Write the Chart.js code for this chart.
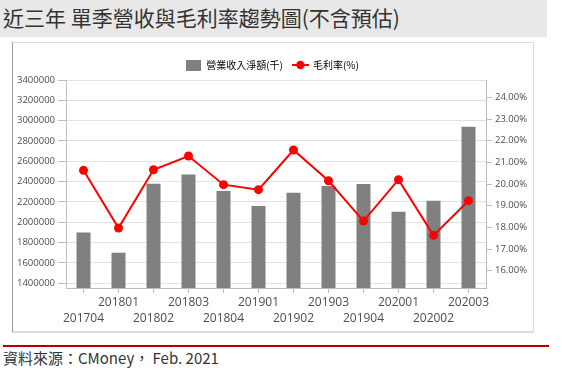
<!DOCTYPE html>
<html>
<head>
<meta charset="utf-8">
<script src="https://cdn.jsdelivr.net/npm/chart.js@4.4.1/dist/chart.umd.min.js"></script>
<style>
  body { margin: 0; background: #fff; width: 562px; height: 385px; overflow: hidden; position: relative;
         font-family: "Noto Sans CJK TC", sans-serif; }
  #title { position: absolute; left: 0; top: 0; width: 547px; height: 37px; background: #e8e8e8; color: #333;
           font-size: 21px; line-height: 35px; padding-left: 3px; box-sizing: border-box; white-space: pre; }
  #box { position: absolute; left: 12px; top: 42px; width: 520px; height: 288px;
         border: 1px solid #dcdcdc; border-left-color: #9a9a9a; border-bottom: 2px solid #dcdcdc; }
  #chart { position: absolute; left: 13px; top: 40px; }
  #rule { position: absolute; left: 3px; top: 345px; width: 546px; height: 2px; background: #b30000; }
  #source { position: absolute; left: 3px; top: 347px; font-size: 15px; line-height: 22px; color: #333; white-space: pre; }
</style>
</head>
<body>
<div id="title">近三年 單季營收與毛利率趨勢圖(不含預估)</div>
<div id="box"></div>
<canvas id="chart" width="519" height="291"></canvas>
<div id="rule"></div>
<div id="source">資料來源：CMoney， Feb. 2021</div>
<script>
    'use strict';

    // data
    const quarters = ['201704', '201801', '201802', '201803', '201804', '201901',
                      '201902', '201903', '201904', '202001', '202002', '202003'];
    const revenue = [1900000, 1700000, 2380000, 2470000, 2308000, 2160000,
                     2291000, 2357000, 2377000, 2104000, 2213000, 2940000];
    const grossMargin = [20.63, 17.97, 20.66, 21.29, 19.97, 19.74,
                         21.57, 20.15, 18.29, 20.20, 17.63, 19.23];
    const revenueTicks = [1400000, 1600000, 1800000, 2000000, 2200000, 2400000,
                          2600000, 2800000, 3000000, 3200000, 3400000];
    const marginTicks = [16, 17, 18, 19, 20, 21, 22, 23, 24];

    const BAR_COLOR = '#808080';
    const LINE_COLOR = '#ff0000';
    const AXIS_COLOR = '#bdbdbd';
    const TEXT_COLOR = '#4d4d4d';

    // little legend swatches
    function makeSwatch(w, h, draw) {
        const c = document.createElement('canvas');
        c.width = w;
        c.height = h;
        draw(c.getContext('2d'));
        return c;
    }
    const barSwatch = makeSwatch(15, 11, g => {
        g.fillStyle = BAR_COLOR;
        g.fillRect(0, 0, 15, 11);
    });
    const lineSwatch = makeSwatch(17, 10, g => {
        g.strokeStyle = LINE_COLOR;
        g.lineWidth = 2;
        g.beginPath();
        g.moveTo(0, 5);
        g.lineTo(17, 5);
        g.stroke();
        g.fillStyle = LINE_COLOR;
        g.beginPath();
        g.arc(8.5, 5, 4.2, 0, Math.PI * 2);
        g.fill();
    });

    Chart.defaults.font.family = '"Open Sans", "Noto Sans CJK TC", sans-serif';
    Chart.defaults.color = TEXT_COLOR;

    new Chart(document.getElementById('chart'), {
        data: {
            labels: quarters,
            datasets: [
                {
                    type: 'bar',
                    label: '營業收入淨額(千)',
                    data: revenue,
                    backgroundColor: BAR_COLOR,
                    borderWidth: 0,
                    barPercentage: 0.4,
                    categoryPercentage: 1,
                    yAxisID: 'y',
                    order: 1
                },
                {
                    type: 'line',
                    label: '毛利率(%)',
                    data: grossMargin,
                    borderColor: LINE_COLOR,
                    backgroundColor: LINE_COLOR,
                    borderWidth: 2,
                    pointRadius: 4.5,
                    pointBorderWidth: 0,
                    pointBackgroundColor: LINE_COLOR,
                    tension: 0,
                    yAxisID: 'y1',
                    order: 0
                }
            ]
        },
        options: {
            responsive: false,
            animation: false,
            devicePixelRatio: 1,
            layout: { padding: { top: 5, left: 0, right: 0, bottom: 0 } },
            plugins: {
                tooltip: { enabled: false },
                legend: {
                    position: 'top',
                    labels: {
                        usePointStyle: true,
                        pointStyleWidth: 15,
                        padding: 10,
                        color: '#555',
                        font: { family: '"Noto Sans CJK TC", sans-serif', size: 10 },
                        generateLabels: () => [
                            { text: '營業收入淨額(千)', pointStyle: barSwatch, datasetIndex: 0, hidden: false, lineWidth: 0 },
                            { text: '毛利率(%)', pointStyle: lineSwatch, datasetIndex: 1, hidden: false, lineWidth: 0 }
                        ]
                    }
                }
            },
            scales: {
                x: {
                    offset: true,
                    grid: { offset: false, drawOnChartArea: false, tickLength: 5, color: AXIS_COLOR },
                    border: { color: AXIS_COLOR },
                    ticks: {
                        autoSkip: false,
                        maxRotation: 0,
                        minRotation: 0,
                        padding: 2,
                        color: TEXT_COLOR,
                        font: { size: 12, lineHeight: '16px' },
                        callback: (v, i) => (i % 2 === 0 ? ['', quarters[i]] : quarters[i])
                    },
                    afterFit: s => { s.height = 43; }
                },
                y: {
                    position: 'left',
                    min: 1354000,
                    max: 3400000,
                    grid: { color: '#e2e2e2', tickLength: 8, tickColor: AXIS_COLOR },
                    border: { color: AXIS_COLOR },
                    ticks: {
                        padding: 3,
                        color: TEXT_COLOR,
                        font: { size: 9.5 },
                        callback: v => String(v)
                    },
                    afterBuildTicks: s => { s.ticks = revenueTicks.map(v => ({ value: v })); },
                    afterFit: s => { s.width = 53; s.paddingTop = 40; }
                },
                y1: {
                    position: 'right',
                    min: 15.2,
                    max: 24.8,
                    grid: { drawOnChartArea: false, tickLength: 6, color: AXIS_COLOR },
                    border: { color: AXIS_COLOR },
                    ticks: {
                        padding: 3,
                        color: TEXT_COLOR,
                        font: { size: 9.5 },
                        callback: v => v.toFixed(2) + '%'
                    },
                    afterBuildTicks: s => { s.ticks = marginTicks.map(v => ({ value: v })); },
                    afterFit: s => { s.width = 46; }
                }
            }
        }
    });
</script>
</body>
</html>
